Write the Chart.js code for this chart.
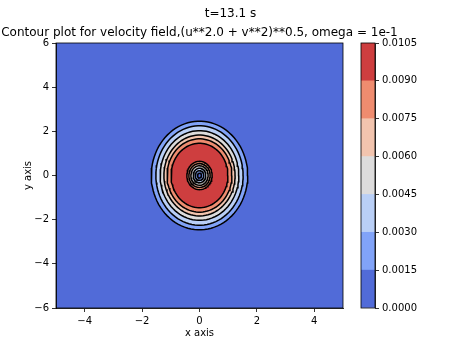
<!DOCTYPE html>
<html>
<head>
<meta charset="utf-8">
<script src="https://cdn.jsdelivr.net/npm/chart.js@4/dist/chart.umd.min.js"></script>
<style>
  body { margin: 0; background: #fff; }
  #wrap { position: relative; width: 461px; height: 346px; }
  #wrap canvas { position: absolute; left: 0; top: 0; }
</style>
</head>
<body>
<div id="wrap">
  <canvas id="main" width="461" height="346"></canvas>
  <canvas id="bar" width="461" height="346"></canvas>
</div>
<script>
	// contour levels and the colours of the layers between them
	var levels = [0.0015, 0.003, 0.0045, 0.006, 0.0075, 0.009];
	var layerColors = ['rgb(81,107,216)', 'rgb(129,163,248)', 'rgb(185,207,246)', 'rgb(221,220,220)',
		'rgb(242,196,174)', 'rgb(239,140,111)', 'rgb(206,62,63)'];

	// half axes of the rings (data units), outer ring of the vortex and inner core
	var outerRx = [1.68, 1.52, 1.37, 1.24, 1.13, 0.99];
	var outerRy = [2.46, 2.25, 2.03, 1.83, 1.66, 1.46];
	var innerRx = [0.44, 0.37, 0.30, 0.22, 0.15, 0.07];
	var innerRy = [0.64, 0.54, 0.44, 0.33, 0.22, 0.11];

	var xTicks = [-4, -2, 0, 2, 4];
	var yTicks = [-6, -4, -2, 0, 2, 4, 6];
	var cbTicks = [0, 0.0015, 0.003, 0.0045, 0.006, 0.0075, 0.009, 0.0105];

	Chart.defaults.font.family = 'DejaVu Sans';
	Chart.defaults.color = '#000';

	function ellipse(rx, ry) {
		var pts = [];
		for (var i = 0; i <= 90; i++) {
			var a = i / 90 * Math.PI * 2;
			pts.push({x: rx * Math.cos(a), y: ry * Math.sin(a)});
		}
		return pts;
	}

	function ring(rx, ry, color) {
		return {
			data: ellipse(rx, ry),
			borderColor: '#000',
			borderWidth: 1.5,
			backgroundColor: color,
			fill: 'shape',
			pointRadius: 0,
			tension: 0
		};
	}

	// rings from outside to inside, reversed so the innermost is drawn last
	var rings = [];
	for (var i = 0; i < levels.length; i++) {
		rings.push(ring(outerRx[i], outerRy[i], layerColors[i + 1]));
	}
	for (var j = 0; j < levels.length; j++) {
		rings.push(ring(innerRx[j], innerRy[j], layerColors[levels.length - 1 - j]));
	}
	rings.reverse();

	function minus(v) {
		return String(v).replace('-', '\u2212');
	}

	var axisGrid = {drawOnChartArea: false, tickLength: 4, tickColor: '#000', tickWidth: 0.8};
	var axisBorder = {color: '#000', width: 0.8};

	var frame = {
		id: 'frame',
		beforeDraw: function(chart) {
			var a = chart.chartArea, ctx = chart.ctx;
			ctx.save();
			ctx.fillStyle = layerColors[0];
			ctx.fillRect(a.left, a.top, a.right - a.left, a.bottom - a.top);
			ctx.restore();
		},
		afterDraw: function(chart) {
			var a = chart.chartArea, ctx = chart.ctx;
			ctx.save();
			ctx.strokeStyle = '#000';
			ctx.lineWidth = 0.8;
			ctx.strokeRect(a.left, a.top, a.right - a.left, a.bottom - a.top);
			ctx.fillStyle = '#000';
			ctx.font = '12px "DejaVu Sans"';
			ctx.textAlign = 'center';
			ctx.textBaseline = 'alphabetic';
			ctx.fillText('t=13.1 s', chart.width / 2, 17);
			ctx.fillText('Contour plot for velocity field,(u**2.0 + v**2)**0.5, omega = 1e-1', (a.left + a.right) / 2, 36);
			ctx.restore();
		}
	};

	new Chart(document.getElementById('main'), {
		type: 'line',
		data: {datasets: rings},
		plugins: [frame],
		options: {
			responsive: false,
			animation: false,
			layout: {padding: {top: 43, right: 118, bottom: 0, left: 0}},
			plugins: {
				legend: {display: false},
				tooltip: {enabled: false},
				filler: {drawTime: 'beforeDatasetsDraw'}
			},
			scales: {
				x: {
					type: 'linear', min: -5, max: 5,
					afterBuildTicks: function(s) { s.ticks = xTicks.map(function(v) { return {value: v}; }); },
					afterFit: function(s) { s.height = 38; },
					grid: axisGrid, border: axisBorder,
					ticks: {font: {size: 10}, padding: 3, maxRotation: 0, callback: minus},
					title: {display: true, text: 'x axis', font: {size: 10}, padding: {top: 0, bottom: 7}}
				},
				y: {
					type: 'linear', min: -6, max: 6,
					afterBuildTicks: function(s) { s.ticks = yTicks.map(function(v) { return {value: v}; }); },
					afterFit: function(s) { s.width = 56; },
					grid: axisGrid, border: axisBorder,
					ticks: {font: {size: 10}, padding: 3, callback: minus},
					title: {display: true, text: 'y axis', font: {size: 10}, padding: {top: 22, bottom: 0}}
				}
			}
		}
	});

	// colorbar
	var cbSets = layerColors.map(function(c) {
		return {data: [0.0015], backgroundColor: c, borderWidth: 0, barPercentage: 1, categoryPercentage: 1};
	});

	var cbFrame = {
		id: 'cbFrame',
		afterDraw: function(chart) {
			var a = chart.chartArea, ctx = chart.ctx;
			ctx.save();
			ctx.strokeStyle = '#000';
			ctx.lineWidth = 0.8;
			ctx.strokeRect(a.left, a.top, a.right - a.left, a.bottom - a.top);
			ctx.restore();
		}
	};

	new Chart(document.getElementById('bar'), {
		type: 'bar',
		data: {labels: [''], datasets: cbSets},
		plugins: [cbFrame],
		options: {
			responsive: false,
			animation: false,
			layout: {padding: {top: 43, right: 0, bottom: 38, left: 361}},
			plugins: {legend: {display: false}, tooltip: {enabled: false}},
			scales: {
				x: {display: false, stacked: true},
				y: {
					position: 'right', stacked: true, min: 0, max: 0.0105,
					afterBuildTicks: function(s) { s.ticks = cbTicks.map(function(v) { return {value: v}; }); },
					afterFit: function(s) { s.width = 86; },
					grid: axisGrid, border: axisBorder,
					ticks: {font: {size: 10}, padding: 3, callback: function(v) { return v.toFixed(4); }}
				}
			}
		}
	});
</script>
</body>
</html>
